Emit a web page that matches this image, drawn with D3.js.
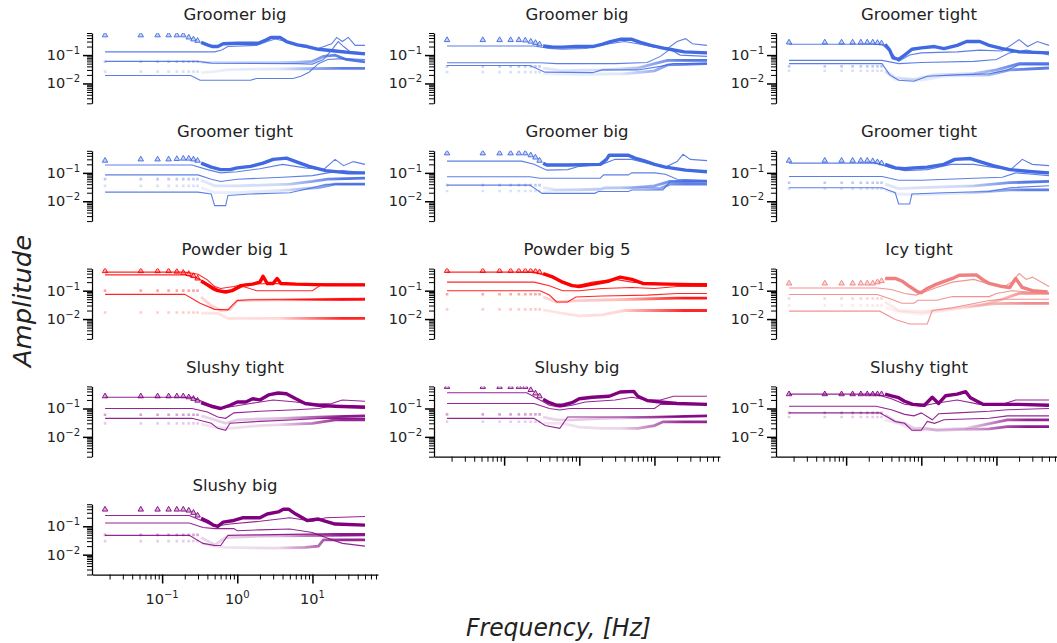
<!DOCTYPE html>
<html>
<head>
<meta charset="utf-8">
<script src="https://cdn.jsdelivr.net/npm/d3@7"></script>
<style>
  body { margin: 0; background: #fff; }
  svg { display: block; }
  text { font-family: "DejaVu Sans", sans-serif; fill: #222; }
</style>
</head>
<body>
<svg id="chart" width="1057" height="643"></svg>
<script>
// ---- data ----
var panelTitles = ["Groomer big", "Groomer big", "Groomer tight",
                   "Groomer tight", "Groomer big", "Groomer tight",
                   "Powder big 1", "Powder big 5", "Icy tight",
                   "Slushy tight", "Slushy big", "Slushy tight",
                   "Slushy big"];
var panelColors = ["royalblue", "royalblue", "royalblue",
                   "royalblue", "royalblue", "royalblue",
                   "red", "red", "lightcoral",
                   "purple", "purple", "purple",
                   "purple"];
var xMajorTicks = [0.1, 1, 10];
var yMajorTicks = [0.01, 0.1];
// frequencies of the separated markers at the low end (Hz)
var markerFreqs = [0.0174, 0.052, 0.087, 0.122, 0.157, 0.191, 0.226, 0.261, 0.296];

// triangle series: sparse marker values, then the dense band [f, amp]
var triangleLevels = [
  [0.5, 0.5, 0.5, 0.5, 0.5, 0.5, 0.42, 0.36, 0.32],
  [0.34, 0.34, 0.34, 0.34, 0.34, 0.33, 0.3, 0.27, 0.24],
  [0.28, 0.28, 0.28, 0.28, 0.28, 0.28, 0.28, 0.27, 0.26],
  [0.27, 0.3, 0.3, 0.3, 0.31, 0.32, 0.32, 0.3, 0.27],
  [0.49, 0.49, 0.49, 0.49, 0.49, 0.49, 0.42, 0.35, 0.27],
  [0.27, 0.27, 0.27, 0.27, 0.27, 0.27, 0.26, 0.24, 0.22],
  [0.49, 0.49, 0.49, 0.49, 0.47, 0.43, 0.39, 0.33, 0.27],
  [0.5, 0.5, 0.5, 0.5, 0.5, 0.5, 0.5, 0.48, 0.45],
  [0.18, 0.18, 0.18, 0.18, 0.18, 0.18, 0.18, 0.2, 0.22],
  [0.27, 0.27, 0.27, 0.27, 0.27, 0.27, 0.25, 0.22, 0.19],
  [0.58, 0.58, 0.58, 0.58, 0.58, 0.58, 0.45, 0.34, 0.27],
  [0.32, 0.32, 0.32, 0.32, 0.32, 0.32, 0.32, 0.32, 0.32],
  [0.39, 0.39, 0.39, 0.39, 0.39, 0.39, 0.36, 0.3, 0.24]
];
var triangleBands = [
  [[0.33,0.28],[0.4,0.23],[0.47,0.2],[0.55,0.2],[0.65,0.25],[1,0.26],[1.9,0.26],[2.4,0.34],[2.8,0.42],[3.7,0.42],[4.5,0.3],[6.3,0.23],[8.5,0.2],[12,0.16],[20,0.14],[35,0.12],[50,0.11]],
  [[0.33,0.21],[0.45,0.19],[0.6,0.19],[0.9,0.2],[1.5,0.2],[2,0.24],[2.6,0.3],[3.5,0.36],[5,0.36],[6.5,0.28],[9,0.22],[14,0.17],[25,0.13],[50,0.12]],
  [[0.33,0.24],[0.38,0.15],[0.42,0.08],[0.5,0.07],[0.6,0.1],[0.75,0.16],[1,0.18],[1.5,0.2],[2,0.17],[3,0.22],[4,0.3],[6,0.3],[8,0.22],[12,0.17],[20,0.13],[50,0.12]],
  [[0.33,0.22],[0.45,0.16],[0.6,0.13],[0.8,0.13],[1,0.15],[1.5,0.17],[2.2,0.22],[3,0.3],[4.5,0.33],[6,0.25],[9,0.17],[15,0.12],[30,0.1],[50,0.1]],
  [[0.33,0.22],[0.37,0.19],[0.7,0.19],[1.9,0.2],[2.3,0.3],[2.5,0.42],[4.5,0.42],[5.5,0.33],[7.2,0.27],[10,0.2],[14,0.16],[26,0.125],[50,0.11]],
  [[0.33,0.2],[0.45,0.15],[0.6,0.14],[0.8,0.15],[1.2,0.16],[2,0.2],[2.8,0.3],[4.5,0.32],[6,0.25],[9,0.18],[15,0.13],[30,0.11],[50,0.1]],
  [[0.33,0.22],[0.4,0.16],[0.47,0.12],[0.55,0.1],[0.7,0.09],[0.85,0.1],[1.1,0.15],[1.6,0.17],[2,0.2],[2.2,0.32],[2.5,0.18],[3,0.18],[3.4,0.27],[3.8,0.18],[6,0.17],[15,0.16],[50,0.16]],
  [[0.33,0.4],[0.45,0.3],[0.6,0.2],[0.8,0.15],[1,0.14],[1.5,0.17],[2.5,0.22],[3.5,0.3],[5,0.25],[7,0.18],[15,0.17],[50,0.16]],
  [[0.33,0.27],[0.45,0.27],[0.55,0.22],[0.7,0.14],[0.9,0.09],[1,0.085],[1.2,0.12],[1.6,0.17],[2.6,0.27],[3.2,0.35],[5.4,0.36],[6.5,0.25],[8,0.18],[12,0.14],[15,0.13],[18,0.27],[22,0.13],[30,0.1],[48,0.09]],
  [[0.33,0.16],[0.45,0.12],[0.6,0.1],[0.8,0.13],[1,0.17],[1.3,0.17],[1.6,0.22],[2,0.2],[2.6,0.3],[3.5,0.35],[4.5,0.33],[6,0.22],[8,0.15],[12,0.13],[20,0.12],[50,0.11]],
  [[0.33,0.21],[0.4,0.16],[0.5,0.13],[0.6,0.13],[0.8,0.16],[1,0.22],[1.5,0.25],[2.5,0.27],[3.5,0.38],[5.3,0.4],[6,0.27],[8,0.19],[12,0.17],[20,0.15],[50,0.14]],
  [[0.33,0.32],[0.4,0.28],[0.5,0.24],[0.6,0.18],[0.77,0.14],[1.1,0.13],[1.4,0.25],[1.7,0.15],[2.1,0.28],[3,0.32],[3.9,0.39],[4.5,0.24],[6.6,0.14],[20,0.14],[50,0.13]],
  [[0.33,0.19],[0.4,0.15],[0.48,0.11],[0.55,0.1],[0.65,0.14],[0.9,0.16],[1.2,0.2],[2,0.2],[2.5,0.27],[3.5,0.32],[4.1,0.4],[4.8,0.4],[6,0.27],[8.5,0.16],[12,0.18],[20,0.12],[50,0.11]]
];

// faint square series (two per panel): sparse level, then dense band
var squareHiLevels = [0.058, 0.04, 0.04, 0.06, 0.037, 0.045, 0.1, 0.075, 0.053, 0.06, 0.062, 0.07, 0.05];
var squareHiBands = [
  [[0.33,0.055],[1,0.055],[6,0.055],[10,0.06],[14,0.09],[20,0.1],[28,0.07],[50,0.058]],
  [[0.33,0.035],[0.6,0.028],[2,0.03],[6,0.035],[10,0.05],[15,0.065],[50,0.065]],
  [[0.33,0.028],[0.45,0.016],[0.8,0.014],[1.5,0.02],[5,0.022],[10,0.03],[20,0.05],[50,0.05]],
  [[0.33,0.055],[0.5,0.035],[1,0.035],[5,0.04],[10,0.05],[16,0.06],[50,0.065]],
  [[0.33,0.03],[0.5,0.025],[1.9,0.026],[2.2,0.03],[5,0.03],[10,0.035],[16,0.05],[50,0.05]],
  [[0.33,0.04],[0.5,0.028],[1,0.03],[5,0.035],[15,0.045],[50,0.05]],
  [[0.33,0.06],[0.45,0.03],[0.6,0.02],[0.8,0.022],[1,0.045],[3,0.048],[50,0.05]],
  [[0.33,0.06],[0.5,0.04],[1,0.045],[5,0.05],[20,0.055],[50,0.055]],
  [[0.33,0.04],[0.5,0.02],[1,0.018],[2,0.022],[5,0.03],[10,0.035],[15,0.036],[50,0.036]],
  [[0.33,0.055],[0.5,0.04],[0.7,0.03],[1,0.04],[4,0.045],[12,0.05],[50,0.055]],
  [[0.33,0.05],[0.5,0.04],[0.8,0.04],[2,0.045],[10,0.05],[50,0.055]],
  [[0.33,0.06],[0.45,0.035],[0.6,0.03],[0.8,0.02],[1.2,0.02],[1.6,0.017],[3,0.018],[8,0.019],[14,0.023],[50,0.023]],
  [[0.33,0.04],[0.5,0.022],[0.7,0.04],[2,0.045],[50,0.05]]
];
var squareLoLevels = [0.026, 0.025, 0.028, 0.035, 0.023, 0.028, 0.017, 0.022, 0.03, 0.03, 0.034, 0.05, 0.03];
var squareLoBands = [
  [[0.33,0.024],[0.5,0.026],[0.7,0.03],[2,0.032],[8,0.033],[20,0.034],[50,0.034]],
  [[0.33,0.022],[1,0.021],[4,0.022],[10,0.028],[15,0.045],[50,0.05]],
  [[0.33,0.025],[0.45,0.014],[1,0.013],[2,0.018],[8,0.02],[15,0.03],[50,0.035]],
  [[0.33,0.03],[0.5,0.02],[1,0.02],[5,0.025],[12,0.03],[20,0.04],[50,0.04]],
  [[0.33,0.021],[0.5,0.024],[1,0.025],[2,0.028],[6,0.03],[12,0.028],[16,0.04],[50,0.04]],
  [[0.33,0.025],[0.5,0.018],[1,0.017],[5,0.02],[15,0.025],[50,0.025]],
  [[0.33,0.016],[0.55,0.016],[0.75,0.0105],[50,0.0105]],
  [[0.33,0.021],[0.6,0.016],[1,0.013],[2,0.014],[4,0.02],[50,0.02]],
  [[0.33,0.025],[0.5,0.018],[1,0.015],[2,0.02],[6,0.03],[12,0.05],[20,0.08],[50,0.08]],
  [[0.33,0.028],[0.5,0.022],[0.8,0.02],[2,0.025],[10,0.03],[20,0.04],[50,0.04]],
  [[0.33,0.03],[0.6,0.03],[1,0.022],[2,0.02],[6,0.02],[10,0.025],[13,0.034],[50,0.034]],
  [[0.33,0.04],[0.5,0.03],[0.8,0.017],[1.4,0.018],[4,0.02],[14,0.04],[50,0.04]],
  [[0.33,0.025],[0.5,0.02],[0.7,0.018],[3,0.017],[8,0.018],[12,0.02],[14,0.033],[50,0.033]]
];

// thin lines, three per panel
var upperLines = [
  [[0.0174,0.13],[0.5,0.13],[0.62,0.15],[0.75,0.2],[1.8,0.22],[2.5,0.3],[3.2,0.37],[4.5,0.3],[7,0.2],[12,0.17],[18,0.25],[21,0.42],[25,0.3],[30,0.42],[37,0.22],[50,0.22]],
  [[0.0174,0.21],[0.25,0.21],[0.4,0.17],[0.6,0.16],[1.2,0.17],[2.5,0.25],[4,0.3],[6,0.25],[10,0.19],[15,0.17],[20,0.3],[26,0.38],[32,0.25],[50,0.22]],
  [[0.0174,0.24],[0.3,0.24],[0.4,0.12],[0.5,0.06],[0.7,0.1],[1,0.12],[3,0.13],[6,0.15],[12,0.14],[20,0.35],[26,0.2],[35,0.3],[50,0.22]],
  [[0.0174,0.19],[0.25,0.19],[0.4,0.13],[0.6,0.1],[1,0.11],[2,0.14],[4,0.2],[8,0.15],[14,0.13],[20,0.3],[26,0.18],[35,0.25],[50,0.2]],
  [[0.0174,0.26],[0.17,0.26],[0.25,0.2],[0.37,0.125],[0.7,0.13],[1,0.17],[2,0.2],[3,0.3],[5,0.3],[8,0.22],[14,0.16],[20,0.25],[24,0.45],[30,0.3],[50,0.27]],
  [[0.0174,0.22],[0.25,0.22],[0.4,0.15],[0.6,0.12],[1.2,0.13],[2.5,0.2],[5,0.2],[10,0.15],[16,0.14],[22,0.3],[30,0.2],[50,0.18]],
  [[0.0174,0.45],[0.2,0.45],[0.3,0.38],[0.4,0.24],[0.5,0.14],[0.6,0.12],[0.9,0.14],[1.3,0.17],[3,0.18],[50,0.17]],
  [[0.0174,0.45],[0.25,0.45],[0.4,0.32],[0.6,0.2],[0.9,0.15],[1.5,0.2],[3,0.25],[5,0.2],[8,0.18],[50,0.18]],
  [[0.0174,0.125],[0.26,0.125],[0.4,0.11],[0.6,0.08],[0.85,0.07],[1.1,0.09],[1.6,0.13],[2.6,0.2],[5,0.25],[8,0.17],[12,0.13],[16,0.2],[20,0.4],[25,0.25],[30,0.3],[50,0.14]],
  [[0.0174,0.25],[0.25,0.25],[0.4,0.15],[0.6,0.1],[0.9,0.12],[1.5,0.15],[3,0.2],[6,0.17],[10,0.14],[18,0.15],[25,0.2],[50,0.18]],
  [[0.0174,0.36],[0.2,0.36],[0.3,0.2],[0.4,0.13],[0.55,0.11],[0.8,0.13],[1.2,0.17],[3,0.2],[5,0.25],[8,0.2],[12,0.2],[18,0.27],[50,0.27]],
  [[0.0174,0.32],[0.25,0.32],[0.4,0.22],[0.6,0.14],[1,0.12],[1.5,0.15],[3,0.2],[6,0.14],[12,0.14],[18,0.2],[50,0.2]],
  [[0.0174,0.24],[0.23,0.24],[0.35,0.15],[0.5,0.1],[0.8,0.12],[2,0.15],[5,0.2],[10,0.15],[15,0.2],[50,0.22]]
];
var middleLines = [
  [[0.0174,0.06],[0.3,0.06],[0.45,0.052],[6,0.05],[10,0.048],[14,0.07],[18,0.15],[22,0.3],[26,0.2],[32,0.13],[50,0.12]],
  [[0.0174,0.054],[0.3,0.054],[0.5,0.05],[3,0.05],[8,0.055],[12,0.09],[16,0.16],[22,0.1],[50,0.09]],
  [[0.0174,0.065],[0.3,0.065],[0.5,0.05],[1,0.055],[5,0.06],[10,0.07],[15,0.12],[25,0.15],[50,0.1]],
  [[0.0174,0.085],[0.3,0.085],[0.45,0.06],[0.6,0.05],[1,0.06],[4,0.07],[10,0.08],[16,0.1],[25,0.12],[50,0.1]],
  [[0.0174,0.073],[0.22,0.073],[0.3,0.065],[1.9,0.065],[2.1,0.085],[4.5,0.085],[5,0.1],[10,0.1],[14,0.09],[20,0.06],[50,0.055]],
  [[0.0174,0.075],[0.3,0.075],[0.5,0.055],[1,0.055],[5,0.065],[12,0.07],[18,0.1],[30,0.09],[50,0.08]],
  [[0.0174,0.36],[0.2,0.36],[0.3,0.27],[0.45,0.15],[0.6,0.1],[0.9,0.1],[1.2,0.14],[1.8,0.1],[10,0.1],[13,0.16],[50,0.16]],
  [[0.0174,0.2],[0.25,0.2],[0.4,0.15],[0.6,0.1],[1,0.1],[2,0.12],[5,0.13],[10,0.12],[20,0.14],[50,0.14]],
  [[0.0174,0.073],[0.26,0.073],[0.4,0.05],[0.55,0.036],[0.8,0.036],[0.9,0.046],[1.6,0.046],[2.6,0.062],[8,0.062],[10,0.08],[16,0.1],[50,0.08]],
  [[0.0174,0.1],[0.25,0.1],[0.4,0.075],[0.55,0.05],[0.7,0.045],[0.9,0.07],[2,0.08],[6,0.09],[12,0.1],[20,0.13],[50,0.12]],
  [[0.0174,0.15],[0.25,0.15],[0.4,0.1],[0.55,0.088],[0.75,0.1],[2,0.1],[5,0.1],[10,0.1],[12,0.14],[50,0.14]],
  [[0.0174,0.12],[0.25,0.12],[0.4,0.09],[0.6,0.062],[0.8,0.055],[1,0.07],[1.4,0.04],[1.7,0.065],[3,0.07],[8,0.08],[14,0.09],[50,0.1]],
  [[0.0174,0.13],[0.23,0.13],[0.35,0.09],[0.5,0.083],[0.9,0.083],[1,0.07],[2,0.075],[5,0.08],[10,0.06],[15,0.04],[25,0.025],[50,0.02]]
];
var lowerLines = [
  [[0.0174,0.019],[0.24,0.019],[0.32,0.013],[1.5,0.013],[1.8,0.015],[5.5,0.015],[7,0.018],[9,0.025],[12,0.05],[16,0.07],[25,0.075],[50,0.07]],
  [[0.0174,0.043],[0.22,0.043],[0.35,0.025],[1.5,0.024],[2,0.03],[6,0.03],[12,0.04],[18,0.05],[50,0.05]],
  [[0.0174,0.05],[0.3,0.05],[0.38,0.02],[0.5,0.013],[0.8,0.012],[1.2,0.018],[3,0.02],[8,0.022],[14,0.03],[20,0.045],[50,0.045]],
  [[0.0174,0.021],[0.3,0.021],[0.45,0.018],[0.5,0.007],[0.7,0.007],[0.75,0.016],[1.5,0.018],[5,0.02],[10,0.03],[15,0.04],[50,0.04]],
  [[0.0174,0.037],[0.22,0.037],[0.32,0.019],[1.6,0.019],[1.8,0.022],[4.5,0.022],[5,0.025],[13,0.025],[16,0.048],[50,0.05]],
  [[0.0174,0.03],[0.3,0.03],[0.45,0.02],[0.5,0.008],[0.7,0.008],[0.75,0.018],[2,0.02],[8,0.022],[15,0.03],[50,0.035]],
  [[0.0174,0.074],[0.2,0.074],[0.32,0.036],[0.5,0.022],[0.75,0.021],[0.85,0.03],[1,0.045],[1.5,0.048],[50,0.05]],
  [[0.0174,0.1],[0.3,0.1],[0.4,0.07],[0.5,0.04],[0.7,0.04],[0.9,0.06],[2,0.065],[8,0.07],[20,0.08],[50,0.08]],
  [[0.0174,0.019],[0.28,0.019],[0.45,0.0096],[0.7,0.0067],[1.2,0.0067],[1.4,0.02],[2.6,0.025],[8,0.045],[12,0.05],[50,0.05]],
  [[0.0174,0.045],[0.25,0.045],[0.45,0.03],[0.55,0.02],[0.7,0.017],[0.8,0.03],[2,0.035],[6,0.04],[15,0.045],[50,0.045]],
  [[0.0174,0.045],[0.25,0.045],[0.35,0.025],[0.55,0.02],[0.7,0.05],[2,0.05],[10,0.05],[50,0.055]],
  [[0.0174,0.07],[0.28,0.07],[0.45,0.035],[0.6,0.03],[0.75,0.017],[1,0.017],[1.2,0.035],[1.5,0.03],[2,0.04],[8,0.045],[14,0.055],[50,0.055]],
  [[0.0174,0.048],[0.23,0.048],[0.35,0.025],[0.5,0.021],[0.6,0.021],[0.75,0.048],[2,0.05],[5,0.052],[20,0.055],[50,0.055]]
];

// ---- layout ----
var svg = d3.select("#chart");
var defs = svg.append("defs");
var axW = 286, axH = 70.3;
var xDomain = [Math.pow(10, -1.933), Math.pow(10, 1.872)];
var yDomain = [0.002, 0.6];
var superscript = { "0.01": "\u22122", "0.1": "\u22121", "1": "0", "10": "1" };
// panels that show the bottom axis, and the one that labels it
var bottomAxisPanels = [10, 11, 12];
var labelledPanel = 12;

function isMajor(v) {
  var l = Math.log10(v);
  return Math.abs(l - Math.round(l)) < 1e-6;
}

function addLabel(sel, xPos, yPos, v, anchor) {
  var t = sel.append("text")
    .attr("x", xPos).attr("y", yPos)
    .attr("text-anchor", anchor)
    .attr("font-size", 14.5);
  t.append("tspan").text("10");
  t.append("tspan").attr("dy", -6).attr("font-size", 10).text(superscript[String(v)]);
}

panelTitles.forEach(function (title, p) {
  var row = Math.floor(p / 3), col = p % 3;
  var left = 92 + 342 * col, top = 33 + 117.8 * row;
  var color = panelColors[p];

  var x = d3.scaleLog().domain(xDomain).range([left, left + axW]);
  var y = d3.scaleLog().domain(yDomain).range([top + axH, top]);
  var line = d3.line().x(function (d) { return x(d[0]); }).y(function (d) { return y(d[1]); });

  var g = svg.append("g").attr("class", "panel");

  defs.append("clipPath").attr("id", "clip" + p)
    .append("rect").attr("x", left).attr("y", top).attr("width", axW).attr("height", axH);

  // gradient so the dense square bands grow more solid as markers pile up
  function bandGradient(id, lo, hi) {
    var gr = defs.append("linearGradient").attr("id", id)
      .attr("gradientUnits", "userSpaceOnUse")
      .attr("x1", x(0.33)).attr("x2", x(25)).attr("y1", 0).attr("y2", 0);
    gr.append("stop").attr("offset", 0).attr("stop-color", color).attr("stop-opacity", lo);
    gr.append("stop").attr("offset", 0.55).attr("stop-color", color).attr("stop-opacity", lo * 1.6);
    gr.append("stop").attr("offset", 1).attr("stop-color", color).attr("stop-opacity", hi);
    return "url(#" + id + ")";
  }

  var plot = g.append("g").attr("clip-path", "url(#clip" + p + ")");

  // faint squares (low then high)
  [[squareLoLevels[p], squareLoBands[p], 0.2, 0.1, 0.85],
   [squareHiLevels[p], squareHiBands[p], 0.35, 0.16, 0.9]].forEach(function (s, i) {
    plot.append("g").selectAll("path")
      .data(markerFreqs)
      .enter().append("path")
      .attr("transform", function (f) { return "translate(" + x(f) + "," + y(s[0]) + ")"; })
      .attr("d", d3.symbol(d3.symbolSquare, 7))
      .attr("fill", color).attr("fill-opacity", s[2]);
    plot.append("path")
      .datum(s[1])
      .attr("d", line)
      .attr("fill", "none")
      .attr("stroke", bandGradient("sq" + p + "_" + i, s[3], s[4]))
      .attr("stroke-width", 2.8);
  });

  // thin lines
  [lowerLines[p], middleLines[p], upperLines[p]].forEach(function (pts) {
    plot.append("path")
      .datum(pts)
      .attr("d", line)
      .attr("fill", "none")
      .attr("stroke", color)
      .attr("stroke-opacity", 0.85)
      .attr("stroke-width", 1.1);
  });

  // triangles
  plot.append("g").selectAll("path")
    .data(markerFreqs)
    .enter().append("path")
    .attr("transform", function (f, i) { return "translate(" + x(f) + "," + y(triangleLevels[p][i]) + ")"; })
    .attr("d", d3.symbol(d3.symbolTriangle, 13))
    .attr("fill", color).attr("fill-opacity", 0.3)
    .attr("stroke", color).attr("stroke-width", 0.9);
  plot.append("path")
    .datum(triangleBands[p])
    .attr("d", line)
    .attr("fill", "none")
    .attr("stroke", color)
    .attr("stroke-width", 3.4)
    .attr("stroke-linejoin", "round");

  // y axis: major + minor ticks, spine
  var yMinor = y.ticks().filter(function (v) { return !isMajor(v); });
  var ya = g.append("g").attr("transform", "translate(" + left + ",0)");
  ya.call(d3.axisLeft(y).tickValues(yMajorTicks).tickSize(9).tickSizeOuter(0).tickFormat(""));
  ya.selectAll("line").attr("stroke-width", 1.5);
  ya.select(".domain").attr("stroke-width", 1.25);
  var ym = g.append("g").attr("transform", "translate(" + left + ",0)");
  ym.call(d3.axisLeft(y).tickValues(yMinor).tickSize(5).tickFormat(""));
  ym.select(".domain").remove();
  ym.selectAll("line").attr("stroke-width", 1);
  yMajorTicks.forEach(function (v) {
    addLabel(g, left - 12, y(v) + 5, v, "end");
  });

  // x axis only on the last panel of each column
  if (bottomAxisPanels.indexOf(p) >= 0) {
    var xMinor = x.ticks().filter(function (v) { return !isMajor(v); });
    var xa = g.append("g").attr("transform", "translate(0," + (top + axH) + ")");
    xa.call(d3.axisBottom(x).tickValues(xMajorTicks).tickSize(9).tickSizeOuter(0).tickFormat(""));
    xa.selectAll("line").attr("stroke-width", 1.5);
    xa.select(".domain").attr("stroke-width", 1.25);
    var xm = g.append("g").attr("transform", "translate(0," + (top + axH) + ")");
    xm.call(d3.axisBottom(x).tickValues(xMinor).tickSize(5).tickFormat(""));
    xm.select(".domain").remove();
    xm.selectAll("line").attr("stroke-width", 1);
    if (p === labelledPanel) {
      xMajorTicks.forEach(function (v) {
        addLabel(g, x(v), top + axH + 29, v, "middle");
      });
    }
  }

  g.append("text")
    .attr("x", left + axW / 2).attr("y", top - 13.5)
    .attr("text-anchor", "middle")
    .attr("font-size", 16.5)
    .text(title);
});

// axis titles (math italic in the original)
svg.append("text")
  .attr("transform", "translate(31,301) rotate(-90)")
  .attr("text-anchor", "middle")
  .attr("font-family", "DejaVu Serif").attr("font-style", "italic")
  .attr("font-size", 24)
  .attr("textLength", 132).attr("lengthAdjust", "spacingAndGlyphs")
  .text("Amplitude");

svg.append("text")
  .attr("x", 558.5).attr("y", 636)
  .attr("text-anchor", "middle")
  .attr("font-family", "DejaVu Serif").attr("font-style", "italic")
  .attr("font-size", 24)
  .attr("textLength", 185).attr("lengthAdjust", "spacingAndGlyphs")
  .text("Frequency, [Hz]");
</script>
</body>
</html>
